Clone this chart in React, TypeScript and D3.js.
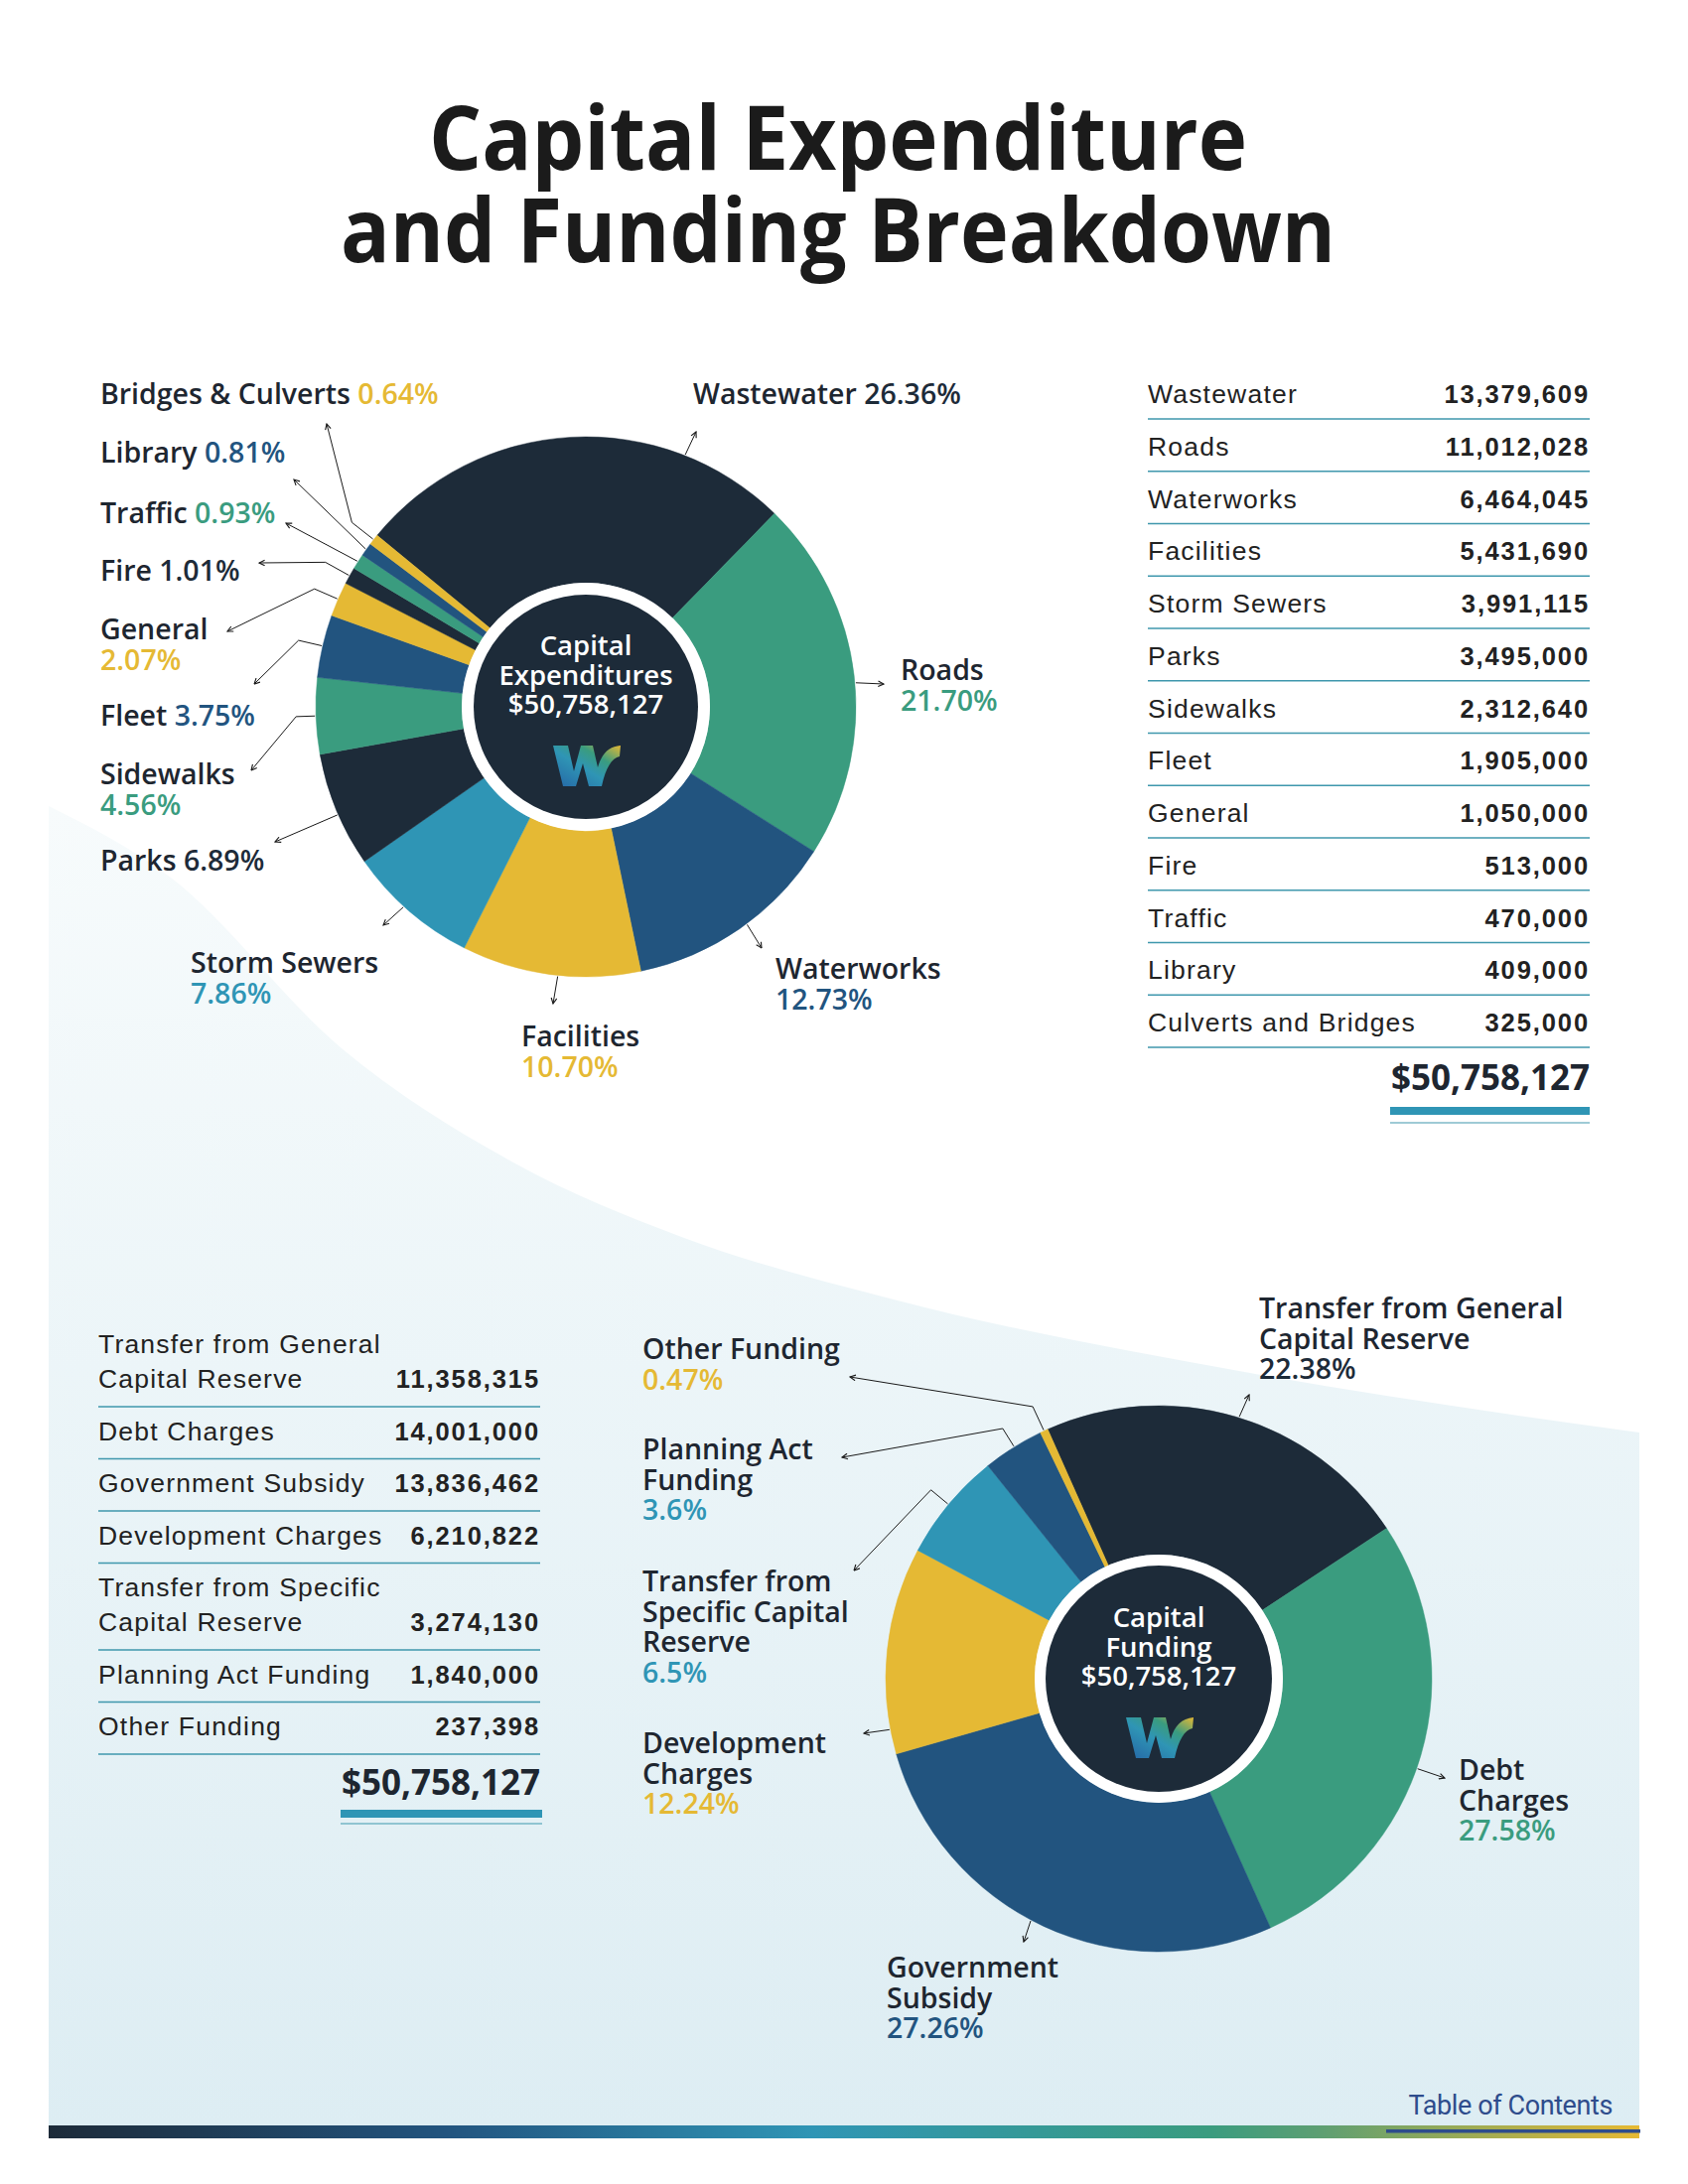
import React from "react";
import * as d3 from "d3";

// ---------------- DATA ----------------
const totalLabel = "$50,758,127";

const expCategories = [
  "Wastewater", "Roads", "Waterworks", "Facilities", "Storm Sewers", "Parks",
  "Sidewalks", "Fleet", "General", "Fire", "Traffic", "Library", "Culverts and Bridges",
];
const expValues = [13379609, 11012028, 6464045, 5431690, 3991115, 3495000, 2312640, 1905000, 1050000, 513000, 470000, 409000, 325000];
const expPieNames = [
  "Wastewater", "Roads", "Waterworks", "Facilities", "Storm Sewers", "Parks",
  "Sidewalks", "Fleet", "General", "Fire", "Traffic", "Library", "Bridges & Culverts",
];
const expPercents = ["26.36%", "21.70%", "12.73%", "10.70%", "7.86%", "6.89%", "4.56%", "3.75%", "2.07%", "1.01%", "0.93%", "0.81%", "0.64%"];
const expColorKeys = ["navy", "green", "blue", "yellow", "teal", "navy", "green", "blue", "yellow", "navy", "green", "blue", "yellow"];
const expPercentColorKeys = ["dark", "green", "blue", "yellow", "teal", "dark", "green", "blue", "yellow", "dark", "green", "blue", "yellow"];

const fundCategories = [
  ["Transfer from General", "Capital Reserve"], ["Debt Charges"], ["Government Subsidy"], ["Development Charges"],
  ["Transfer from Specific", "Capital Reserve"], ["Planning Act Funding"], ["Other Funding"],
];
const fundValues = [11358315, 14001000, 13836462, 6210822, 3274130, 1840000, 237398];
const fundPieNames = [
  ["Transfer from General", "Capital Reserve"], ["Debt", "Charges"], ["Government", "Subsidy"], ["Development", "Charges"],
  ["Transfer from", "Specific Capital", "Reserve"], ["Planning Act", "Funding"], ["Other Funding"],
];
const fundPercents = ["22.38%", "27.58%", "27.26%", "12.24%", "6.5%", "3.6%", "0.47%"];
const fundColorKeys = ["navy", "green", "blue", "yellow", "teal", "blue", "yellow"];
const fundPercentColorKeys = ["dark", "green", "blue", "yellow", "teal", "teal", "yellow"];

// ---------------- STYLE / LAYOUT ----------------
const COLORS: Record<string, string> = {
  navy: "#1d2b39",
  green: "#3a9c7f",
  blue: "#22547f",
  yellow: "#e5b934",
  teal: "#2f95b5",
  dark: "#1d2b39",
};
const TEXT_DARK = "#1e2630";
const LABEL_FONT = "'Open Sans', 'Noto Sans', sans-serif";
const TABLE_FONT = "'Liberation Sans', Arial, sans-serif";
const LINE_H = 30.5;
const LABEL_SIZE = 28.5;

// background curve (decorative panel edge)
const panelCurve: [number, number][] = [
  [49, 812], [172, 884], [344, 1056], [517, 1171], [689, 1247], [900, 1309], [1259, 1383], [1651, 1443],
];

// top pie layout
const expPie = { cx: 590, cy: 712, r: 272, inner: 125, core: 113, startDeg: -50.6 };
const expLabelLayout = [
  { x: 698, y: 407, inline: true, t: 0.76, elbow: 0, end: [701, 435] },
  { x: 907, y: 685, inline: false, t: 0.52, elbow: 0, end: [890, 689] },
  { x: 781, y: 986, inline: false, t: 0.46, elbow: 0, end: [767, 955] },
  { x: 525, y: 1054, inline: false, t: 0.46, elbow: 0, end: [557, 1011] },
  { x: 192, y: 980, inline: false, t: 0.55, elbow: 0, end: [386, 932] },
  { x: 101, y: 877, inline: true, t: 0.46, elbow: 0, end: [277, 848] },
  { x: 101, y: 790, inline: false, t: 0.5, elbow: 20, end: [253, 776] },
  { x: 101, y: 731, inline: true, t: 0.5, elbow: 25, end: [256, 689] },
  { x: 101, y: 644, inline: false, t: 0.5, elbow: 26, end: [229, 636] },
  { x: 101, y: 585, inline: true, t: 0.5, elbow: 28, end: [261, 567] },
  { x: 101, y: 527, inline: true, t: 0.5, elbow: 0, end: [288, 527] },
  { x: 101, y: 466, inline: true, t: 0.5, elbow: 0, end: [296, 483] },
  { x: 101, y: 407, inline: true, t: 0.5, elbow: 28, end: [329, 427] },
];

// bottom pie layout
const fundPie = { cx: 1167, cy: 1691, r: 275, inner: 125, core: 114, startDeg: -24 };
const fundLabelLayout = [
  { x: 1268, y: 1328, t: 0.51, elbow: 0, end: [1258, 1405] },
  { x: 1469, y: 1793, t: 0.53, elbow: 0, end: [1455, 1791] },
  { x: 893, y: 1992, t: 0.53, elbow: 0, end: [1031, 1956] },
  { x: 647, y: 1766, t: 0.12, elbow: 0, end: [870, 1746] },
  { x: 647, y: 1603, t: 0.5, elbow: 23, end: [860, 1582] },
  { x: 647, y: 1470, t: 0.52, elbow: 22, end: [848, 1468] },
  { x: 647, y: 1369, t: 0.5, elbow: 27, end: [856, 1387] },
];

// tables
const topTable = { x0: 1156, x1: 1601, y0: 406, step: 52.75 };
const botTable = { x0: 99, x1: 544, y0: 1363, line2: 35, sepGap: 19, next: 33.5 };
const TABLE_SIZE = 26.5;

// ---------------- COMPONENTS ----------------
function Logo({ x, y, id }: { x: number; y: number; id: string }) {
  return (
    <g transform={`translate(${x},${y})`}>
      <defs>
        <linearGradient id={id} x1="0" y1="1" x2="1" y2="0">
          <stop offset="0" stopColor="#2566a6" />
          <stop offset="0.45" stopColor="#2f95b5" />
          <stop offset="0.7" stopColor="#3a9c7f" />
          <stop offset="1" stopColor="#e5b934" />
        </linearGradient>
      </defs>
      <path
        d="M2,2 L17,2 L23,28 L30,2 L42,2 L47,24 C51,10 58,3 70,2 L69,13 C61,15 55,24 51,43 L38,43 L32,20 L25,43 L12,43 Z"
        fill={`url(#${id})`}
      />
    </g>
  );
}

function Donut({
  values, colorKeys, pie, names, percents, pctColors, layout, centerLines, logoId, twoLineNames,
}: any) {
  const start = (pie.startDeg * Math.PI) / 180;
  const arcs = d3.pie<number>().sort(null).startAngle(start).endAngle(start + 2 * Math.PI)(values);
  const arcGen = d3.arc<d3.PieArcDatum<number>>().innerRadius(pie.inner).outerRadius(pie.r);
  const pt = (a: number, r: number) => [pie.cx + r * Math.sin(a), pie.cy - r * Math.cos(a)];

  return (
    <g>
      <g transform={`translate(${pie.cx},${pie.cy})`}>
        {arcs.map((a, i) => (
          <path key={i} d={arcGen(a) || ""} fill={COLORS[colorKeys[i]]} stroke={COLORS[colorKeys[i]]} strokeWidth={0.5} />
        ))}
        <circle r={pie.inner} fill="#ffffff" />
        <circle r={pie.core} fill={COLORS.navy} />
      </g>
      {centerLines.map((s: string, i: number) => (
        <text key={i} x={pie.cx} y={pie.cy - 52 + i * 29.5} textAnchor="middle" fill="#ffffff"
          fontFamily={LABEL_FONT} fontWeight={600} fontSize={27.5}>{s}</text>
      ))}
      <Logo x={pie.cx - 35} y={pie.cy + 37} id={logoId} />
      {arcs.map((a, i) => {
        const L = layout[i];
        const ang = a.startAngle + L.t * (a.endAngle - a.startAngle);
        const p0 = pt(ang, pie.r + 1);
        const pts = [p0];
        if (L.elbow) pts.push(pt(ang, pie.r + L.elbow));
        pts.push(L.end);
        const line = d3.line()(pts as [number, number][]);
        return <path key={i} d={line || ""} fill="none" stroke="#1a1a1a" strokeWidth={1} markerEnd="url(#arrow)" />;
      })}
      {arcs.map((a, i) => {
        const L = layout[i];
        const pctFill = COLORS[pctColors[i]];
        if (!twoLineNames && L.inline) {
          return (
            <text key={i} x={L.x} y={L.y} fontFamily={LABEL_FONT} fontWeight={600} fontSize={LABEL_SIZE} fill={TEXT_DARK}>
              <tspan>{names[i]} </tspan>
              <tspan fill={pctFill}>{percents[i]}</tspan>
            </text>
          );
        }
        const lines: string[] = twoLineNames ? names[i] : [names[i]];
        return (
          <text key={i} fontFamily={LABEL_FONT} fontWeight={600} fontSize={LABEL_SIZE} fill={TEXT_DARK}>
            {lines.map((s, j) => (
              <tspan key={j} x={L.x} y={L.y + j * LINE_H}>{s}</tspan>
            ))}
            <tspan x={L.x} y={L.y + lines.length * LINE_H} fill={pctFill}>{percents[i]}</tspan>
          </text>
        );
      })}
    </g>
  );
}

export default function App() {
  const fmt = d3.format(",");
  const W = 1700, H = 2200;

  const botRows: { lines: string[]; value: number; ys: number[]; sep: number }[] = [];
  let y = botTable.y0;
  fundCategories.forEach((lines, i) => {
    const ys = lines.map((_, j) => y + j * botTable.line2);
    const sep = ys[ys.length - 1] + botTable.sepGap;
    botRows.push({ lines, value: fundValues[i], ys, sep });
    y = sep + botTable.next;
  });
  const botLastSep = botRows[botRows.length - 1].sep;

  const curve = d3.line().curve(d3.curveMonotoneX)(panelCurve) || "";
  const panelPath = `${curve} L1651,2141 L49,2141 Z`;
  const topLastSep = topTable.y0 + (expCategories.length - 1) * topTable.step + 16;

  return (
    <svg width={W} height={H} viewBox={`0 0 ${W} ${H}`} style={{ position: "absolute", left: 0, top: 0, display: "block" }}>
      <defs>
        <linearGradient id="panelGrad" x1="0" y1="0" x2="0" y2="1">
          <stop offset="0" stopColor="#f7fbfc" />
          <stop offset="1" stopColor="#ddedf3" />
        </linearGradient>
        <linearGradient id="barGrad" x1="0" y1="0" x2="1" y2="0">
          <stop offset="0" stopColor="#1d2b39" />
          <stop offset="0.25" stopColor="#22547f" />
          <stop offset="0.48" stopColor="#2f95b5" />
          <stop offset="0.73" stopColor="#3a9c7f" />
          <stop offset="0.8" stopColor="#5e9f72" />
          <stop offset="1" stopColor="#e5b934" />
        </linearGradient>
        <marker id="arrow" viewBox="0 0 10 10" refX="9" refY="5" markerWidth="7" markerHeight="7" markerUnits="userSpaceOnUse" orient="auto">
          <path d="M1,1 L9,5 L1,9" fill="none" stroke="#1a1a1a" strokeWidth={1.6} />
        </marker>
      </defs>
      <rect x={0} y={0} width={W} height={H} fill="#ffffff" />
      <path d={panelPath} fill="url(#panelGrad)" />
      <rect x={49} y={2141} width={1602} height={13} fill="url(#barGrad)" />
      <rect x={1396} y={2145} width={256} height={3.5} fill="#2e4c8c" />
      <text x={1624} y={2130} textAnchor="end" fill="#2e4c8c" fontFamily="Roboto, sans-serif" fontSize={27} letterSpacing={-0.4}>Table of Contents</text>

      {/* title */}
      <text x={844} y={171} textAnchor="middle" fill="#1b1b1b" fontFamily={LABEL_FONT} fontWeight={700} fontSize={90}
        textLength={824} lengthAdjust="spacingAndGlyphs">Capital Expenditure</text>
      <text x={844} y={264} textAnchor="middle" fill="#1b1b1b" fontFamily={LABEL_FONT} fontWeight={700} fontSize={90}
        textLength={1002} lengthAdjust="spacingAndGlyphs">and Funding Breakdown</text>

      <Donut values={expValues} colorKeys={expColorKeys} pie={expPie} names={expPieNames} percents={expPercents}
        pctColors={expPercentColorKeys} layout={expLabelLayout} centerLines={["Capital", "Expenditures", totalLabel]}
        logoId="logo1" twoLineNames={false} />

      {/* top table */}
      {expCategories.map((c, i) => {
        const by = topTable.y0 + i * topTable.step;
        return (
          <g key={i}>
            <text x={topTable.x0} y={by} fontFamily={TABLE_FONT} fontSize={TABLE_SIZE} letterSpacing={1.2} fill="#222">{c}</text>
            <text x={topTable.x1} y={by} textAnchor="end" fontFamily={TABLE_FONT} fontWeight={700} fontSize={25.5} letterSpacing={1.9} fill="#222">{fmt(expValues[i])}</text>
            <line x1={topTable.x0} x2={topTable.x1} y1={by + 16} y2={by + 16} stroke="#3f97ad" strokeWidth={1.4} />
          </g>
        );
      })}
      <text x={topTable.x1} y={topLastSep + 43} textAnchor="end" fontFamily={LABEL_FONT} fontWeight={700} fontSize={35} fill="#1e2630">{totalLabel}</text>
      <rect x={topTable.x1 - 201} y={topLastSep + 60} width={201} height={8} fill="#2f95b5" />
      <line x1={topTable.x1 - 201} x2={topTable.x1} y1={topLastSep + 76} y2={topLastSep + 76} stroke="#3f97ad" strokeWidth={1.2} />

      {/* bottom-left table */}
      {botRows.map((r, i) => (
        <g key={i}>
          {r.lines.map((s, j) => (
            <text key={j} x={botTable.x0} y={r.ys[j]} fontFamily={TABLE_FONT} fontSize={TABLE_SIZE} letterSpacing={1.2} fill="#222">{s}</text>
          ))}
          <text x={botTable.x1} y={r.ys[r.ys.length - 1]} textAnchor="end" fontFamily={TABLE_FONT} fontWeight={700} fontSize={25.5} letterSpacing={1.9} fill="#222">{fmt(r.value)}</text>
          <line x1={botTable.x0} x2={botTable.x1} y1={r.sep} y2={r.sep} stroke="#3f97ad" strokeWidth={1.4} />
        </g>
      ))}
      <text x={botTable.x1} y={botLastSep + 41} textAnchor="end" fontFamily={LABEL_FONT} fontWeight={700} fontSize={35} fill="#1e2630">{totalLabel}</text>
      <rect x={botTable.x1 - 201} y={botLastSep + 56} width={203} height={8} fill="#2f95b5" />
      <line x1={botTable.x1 - 201} x2={botTable.x1 + 2} y1={botLastSep + 70} y2={botLastSep + 70} stroke="#3f97ad" strokeWidth={1.2} />

      <Donut values={fundValues} colorKeys={fundColorKeys} pie={fundPie} names={fundPieNames} percents={fundPercents}
        pctColors={fundPercentColorKeys} layout={fundLabelLayout} centerLines={["Capital", "Funding", totalLabel]}
        logoId="logo2" twoLineNames={true} />
    </svg>
  );
}
